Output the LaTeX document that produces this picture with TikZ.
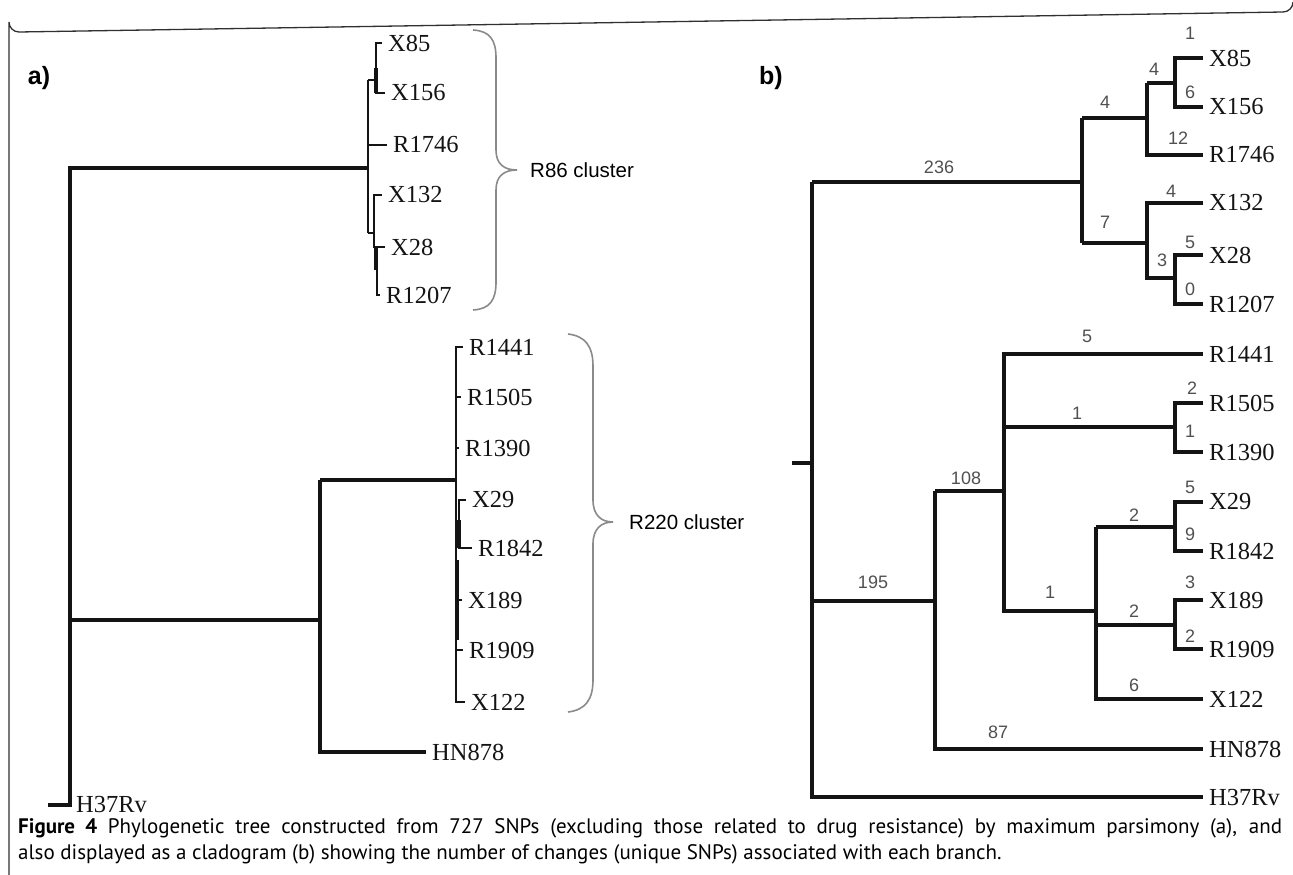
\documentclass[tikz,border=0pt]{standalone}
\usepackage{fontspec}
\setmainfont{Liberation Serif}
\newfontfamily\sansf{Liberation Sans}
\newfontfamily\capf{PT Sans}
\definecolor{treeblack}{HTML}{141414}
\definecolor{numgray}{HTML}{505050}
\definecolor{bracegray}{HTML}{8A8A8A}
\definecolor{framegray}{HTML}{303030}
\tikzset{
  br/.style={draw=treeblack, line width=3.2pt},
  brthin/.style={draw=treeblack, line width=2.6pt},
  frameline/.style={draw=framegray, line width=1.3pt},
  bracepath/.style={draw=bracegray, line width=1.6pt},
  tip/.style={font=\fontsize{24.5}{24.5}\selectfont, anchor=west, inner xsep=6pt, inner ysep=0pt, text=treeblack},
  num/.style={font=\sansf\fontsize{18}{18}\selectfont, text=numgray, inner sep=0pt},
  clab/.style={font=\sansf\fontsize{20.5}{20.5}\selectfont, anchor=west, inner sep=0pt},
  panel/.style={font=\sansf\bfseries\fontsize{25}{25}\selectfont, inner sep=0pt},
  captext/.style={font=\capf\fontsize{21}{21}\selectfont, anchor=base west, inner sep=0pt}
}
\begin{document}
\begin{tikzpicture}[x=1pt,y=-1pt]
\useasboundingbox (0,0) rectangle (1293,875);
% frame
\coordinate (fBL) at (9,875);
\draw[frameline] (fBL) -- (9,22) arc[start angle=180,end angle=90,radius=10] -- (1283,12) arc[start angle=90,end angle=0,radius=10];

% ================= panel a =================
\node[panel] (la) at (39,78) {a)};
% tips (text starts 6 right of the anchor)
\node[tip] (aX85) at (382,43) {X85};
\node[tip] (aX156) at (385,93) {X156};
\node[tip] (aR1746) at (387,145) {R1746};
\node[tip] (aX132) at (382,195) {X132};
\node[tip] (aX28) at (385,247) {X28};
\node[tip] (aR1207) at (380,295) {R1207};
\node[tip] (aR1441) at (463,347) {R1441};
\node[tip] (aR1505) at (461,397) {R1505};
\node[tip] (aR1390) at (459,448) {R1390};
\node[tip] (aX29) at (466,500) {X29};
\node[tip] (aR1842) at (472,548) {R1842};
\node[tip] (aX189) at (462,600) {X189};
\node[tip] (aR1909) at (463,650) {R1909};
\node[tip] (aX122) at (465,702) {X122};
\node[tip] (aHN878) at (426,752) {HN878};
\node[tip] (aH37) at (70,805) {H37Rv};
% internal points
\coordinate (aStub) at (48,805);
\coordinate (aTopL) at (70,168);
\coordinate (aMidL) at (70,620);
\coordinate (a86) at (368,168);
\coordinate (aHNj) at (320,620);
\coordinate (a220L) at (320,480);
\coordinate (a220) at (456,480);
\coordinate (aHNL) at (320,752);
% root
\draw[br] (aStub) -- (aH37.west) -- (aTopL) -- (a86);
\draw[br] (aMidL) -- (aHNj);
\draw[br] (a220L) -- (aHNL) -- (aHN878.west);
\draw[br] (a220L) -- (a220);
% R86 cluster
\draw[brthin] (368,233) -- (368,80);
\draw[brthin] (368,80) -- (376,80);
\draw[brthin] (aX85.west) -- (376,43) -- (376,93) -- (aX156.west);
\draw[br] (376,68) -- (376,93);
\draw[brthin] (368,145) -- (aR1746.west);
\draw[brthin] (368,233) -- (374,233);
\draw[brthin] (aX132.west) -- (374,195) -- (374,247) -- (aX28.west);
\draw[br] (376,247) -- (376,270);
\draw[brthin] (377,270) -- (377,295) -- (aR1207.west);
% R220 cluster
\draw[brthin] (aR1441.west) -- (456,347) -- (456,702) -- (aX122.west);
\draw[brthin] (456,397) -- (aR1505.west);
\draw[brthin] (456,448) -- (aR1390.west);
\draw[br] (459,520) -- (459,548);
\draw[brthin] (aX29.west) -- (459,500) -- (459,548) -- (aR1842.west);
\draw[brthin] (456,600) -- (aX189.west);
\draw[brthin] (456,650) -- (aR1909.west);
\draw[br] (457,560) -- (457,640);
% braces
\draw[bracepath] (473,30) .. controls (490,31) and (496,40) .. (496,58) -- (496,150) .. controls (496,164) and (504,170) .. (517,170) .. controls (504,170) and (496,176) .. (496,190) -- (496,282) .. controls (496,300) and (490,309) .. (473,310);
\node[clab] (c86) at (530,170) {R86 cluster};
\draw[bracepath] (568,334) .. controls (585,336) and (593,346) .. (593,366) -- (593,500) .. controls (593,515) and (601,522) .. (613,522) .. controls (601,522) and (593,529) .. (593,544) -- (593,680) .. controls (593,700) and (585,710) .. (568,712);
\node[clab] (c220) at (629,522) {R220 cluster};

% ================= panel b =================
\node[panel] (lb) at (771,78) {b)};
% tips
\node[tip] (bX85) at (1203,58) {X85};
\node[tip] (bX156) at (1203,107) {X156};
\node[tip] (bR1746) at (1203,155) {R1746};
\node[tip] (bX132) at (1203,203) {X132};
\node[tip] (bX28) at (1203,255) {X28};
\node[tip] (bR1207) at (1203,304) {R1207};
\node[tip] (bR1441) at (1203,354) {R1441};
\node[tip] (bR1505) at (1203,403) {R1505};
\node[tip] (bR1390) at (1203,452) {R1390};
\node[tip] (bX29) at (1203,502) {X29};
\node[tip] (bR1842) at (1203,551) {R1842};
\node[tip] (bX189) at (1203,600) {X189};
\node[tip] (bR1909) at (1203,649) {R1909};
\node[tip] (bX122) at (1203,699) {X122};
\node[tip] (bHN878) at (1203,749) {HN878};
\node[tip] (bH37) at (1203,797) {H37Rv};
% internal coordinates
\coordinate (bStub) at (792,463);
\coordinate (bRootV) at (812,463);
\coordinate (bTopL) at (812,182);
\coordinate (bBotL) at (812,797);
\coordinate (bMidL) at (812,601);
\coordinate (bA) at (1082,182);
\coordinate (bAu) at (1082,118);
\coordinate (bAl) at (1082,243);
\coordinate (bB) at (1147,118);
\coordinate (bBu) at (1147,83);
\coordinate (bBl) at (1147,155);
\coordinate (bC) at (1175,83);
\coordinate (bCu) at (1175,58);
\coordinate (bCl) at (1175,107);
\coordinate (bD) at (1147,243);
\coordinate (bDu) at (1147,203);
\coordinate (bDl) at (1147,278);
\coordinate (bE) at (1175,278);
\coordinate (bEu) at (1175,255);
\coordinate (bEl) at (1175,304);
\coordinate (bF) at (935,601);
\coordinate (bFu) at (935,491);
\coordinate (bFl) at (935,749);
\coordinate (bG) at (1004,491);
\coordinate (bGu) at (1004,354);
\coordinate (bGm) at (1004,427);
\coordinate (bGl) at (1004,611);
\coordinate (bH) at (1175,427);
\coordinate (bHu) at (1175,403);
\coordinate (bHl) at (1175,452);
\coordinate (bI) at (1096,611);
\coordinate (bIu) at (1096,527);
\coordinate (bIm) at (1096,625);
\coordinate (bIl) at (1096,699);
\coordinate (bJ) at (1175,527);
\coordinate (bJu) at (1175,502);
\coordinate (bJl) at (1175,551);
\coordinate (bK) at (1175,625);
\coordinate (bKu) at (1175,600);
\coordinate (bKl) at (1175,649);
% root
\draw[br] (bStub) -- (bRootV);
\draw[br] (bTopL) -- (bBotL) -- (bH37.west);
\draw[br] (bTopL) -- (bA);
\draw[br] (bAu) -- (bAl);
\draw[br] (bAu) -- (bB);
\draw[br] (bBu) -- (bBl) -- (bR1746.west);
\draw[br] (bBu) -- (bC);
\draw[br] (bX85.west) -- (bCu) -- (bCl) -- (bX156.west);
\draw[br] (bAl) -- (bD);
\draw[br] (bX132.west) -- (bDu) -- (bDl) -- (bE);
\draw[br] (bX28.west) -- (bEu) -- (bEl) -- (bR1207.west);
% lower
\draw[br] (bMidL) -- (bF);
\draw[br] (bFu) -- (bFl) -- (bHN878.west);
\draw[br] (bFu) -- (bG);
\draw[br] (bR1441.west) -- (bGu) -- (bGl) -- (bI);
\draw[br] (bGm) -- (bH);
\draw[br] (bR1505.west) -- (bHu) -- (bHl) -- (bR1390.west);
\draw[br] (bIu) -- (bIl) -- (bX122.west);
\draw[br] (bIu) -- (bJ);
\draw[br] (bX29.west) -- (bJu) -- (bJl) -- (bR1842.west);
\draw[br] (bIm) -- (bK);
\draw[br] (bX189.west) -- (bKu) -- (bKl) -- (bR1909.west);
% numbers
\node[num] (n236) at (939,167) {236};
\node[num] (n4a) at (1105,102) {4};
\node[num] (n4b) at (1154,69) {4};
\node[num] (n1a) at (1190,33) {1};
\node[num] (n6a) at (1190,92) {6};
\node[num] (n12) at (1178,138) {12};
\node[num] (n7) at (1105,222) {7};
\node[num] (n4c) at (1171,191) {4};
\node[num] (n3a) at (1162,260) {3};
\node[num] (n5a) at (1190,242) {5};
\node[num] (n0) at (1190,289) {0};
\node[num] (n5b) at (1087,336) {5};
\node[num] (n1b) at (1077,413) {1};
\node[num] (n2a) at (1192,388) {2};
\node[num] (n1c) at (1190,431) {1};
\node[num] (n108) at (966,478) {108};
\node[num] (n2b) at (1134,515) {2};
\node[num] (n5c) at (1190,487) {5};
\node[num] (n9) at (1190,534) {9};
\node[num] (n1d) at (1050,592) {1};
\node[num] (n195) at (873,582) {195};
\node[num] (n3b) at (1190,582) {3};
\node[num] (n2c) at (1134,611) {2};
\node[num] (n2d) at (1190,636) {2};
\node[num] (n6b) at (1134,685) {6};
\node[num] (n87) at (998,732) {87};

% caption
\node[captext] (cap1) at (18,833) {\makebox[1264pt][s]{\textbf{Figure 4} Phylogenetic tree constructed from 727 SNPs (excluding those related to drug resistance) by maximum parsimony (a), and}};
\node[captext] (cap2) at (18,859) {also displayed as a cladogram (b) showing the number of changes (unique SNPs) associated with each branch.};
\end{tikzpicture}
\end{document}
